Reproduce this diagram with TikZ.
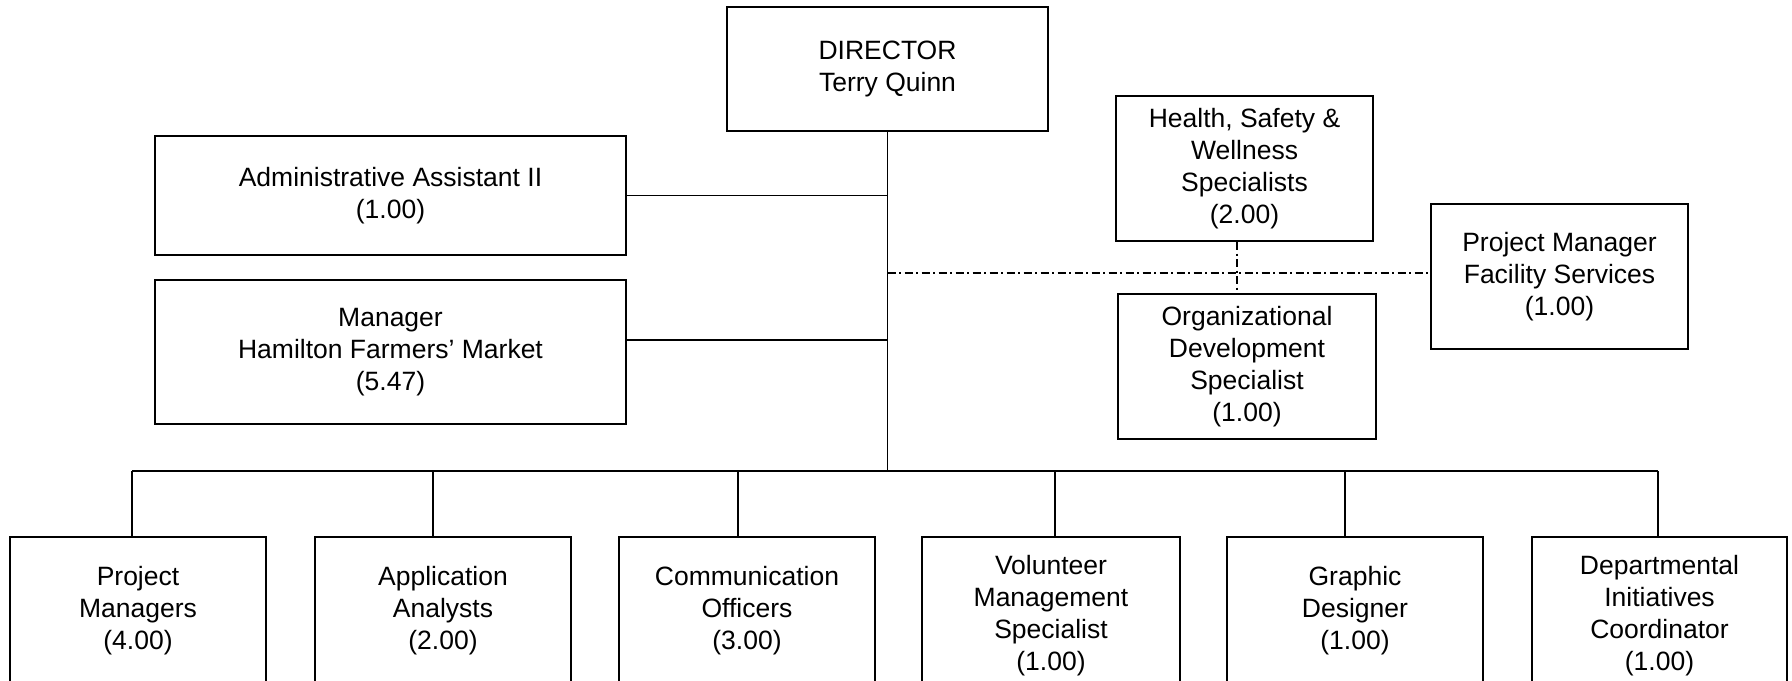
\documentclass[tikz,border=0pt]{standalone}
\usepackage{fontspec}
\setmainfont{Liberation Sans}
\begin{document}
\begin{tikzpicture}[x=0.5pt,y=-0.5pt,
  box/.style={draw, line width=1.1pt, align=center, inner sep=0pt,
    font=\fontsize{13.25pt}{16pt}\selectfont},
  sz/.style 2 args={minimum width=#1*0.5pt, minimum height=#2*0.5pt},
  conn/.style={line width=0.6pt},
  dd/.style={line width=0.6pt, dash pattern=on 4pt off 1.75pt on 1pt off 1.75pt}]
\useasboundingbox (0,0) rectangle (1792,680);

% top level
\node[box, sz={321}{124}] (dir) at (887.5,69) {DIRECTOR\\Terry Quinn};
\node[box, sz={471}{119}] (adm) at (390.5,195.5) {Administrative Assistant II\\(1.00)};
\node[box, sz={471}{144}] (mgr) at (390.5,352) {Manager\\Hamilton Farmers’ Market\\(5.47)};

% dotted-line reports
\node[box, sz={257}{145}] (hs) at (1244.5,168.5) {Health, Safety \&\\Wellness\\Specialists\\(2.00)};
\node[box, sz={258}{145}] (od) at (1247,366.5) {Organizational\\Development\\Specialist\\(1.00)};
\node[box, sz={257}{145}] (pmf) at (1559.5,276.5) {Project Manager\\Facility Services\\(1.00)};

% bottom row
\node[box, sz={256}{148}] (b1) at (138,611) {Project\\Managers\\(4.00)};
\node[box, sz={256}{148}] (b2) at (443,611) {Application\\Analysts\\(2.00)};
\node[box, sz={256}{148}] (b3) at (747,611) {Communication\\Officers\\(3.00)};
\node[box, sz={258}{158}] (b4) at (1051,616) {Volunteer\\Management\\Specialist\\(1.00)};
\node[box, sz={256}{148}] (b5) at (1355,611) {Graphic\\Designer\\(1.00)};
\node[box, sz={255}{158}] (b6) at (1659.5,616) {Departmental\\Initiatives\\Coordinator\\(1.00)};

% bus coordinates
\coordinate (d1) at (132,471);
\coordinate (d2) at (433,471);
\coordinate (d3) at (738,471);
\coordinate (d4) at (1055,471);
\coordinate (d5) at (1345,471);
\coordinate (d6) at (1658,471);
\coordinate (dl) at (889,273);

% solid connectors
\draw[conn] (dir.south) -- (dir.south |- d1);
\draw[conn] (adm.east) -- (adm.east -| dir.south);
\draw[conn] ([yshift=6pt]mgr.east) -- ([yshift=6pt]mgr.east -| dir.south);
\draw[conn] (d1) -- (d6);
\draw[conn] (d1) -- (d1 |- b1.north);
\draw[conn] (d2) -- (d2 |- b2.north);
\draw[conn] (d3) -- (d3 |- b3.north);
\draw[conn] (d4) -- (d4 |- b4.north);
\draw[conn] (d5) -- (d5 |- b5.north);
\draw[conn] (d6) -- (d6 |- b6.north);

% dash-dot connectors
\draw[dd] (dir.south |- dl) -- (pmf.west |- dl);
\draw[dd] ([xshift=-3.75pt]hs.south) -- ([xshift=-3.75pt]hs.south |- od.north);
\end{tikzpicture}
\end{document}
